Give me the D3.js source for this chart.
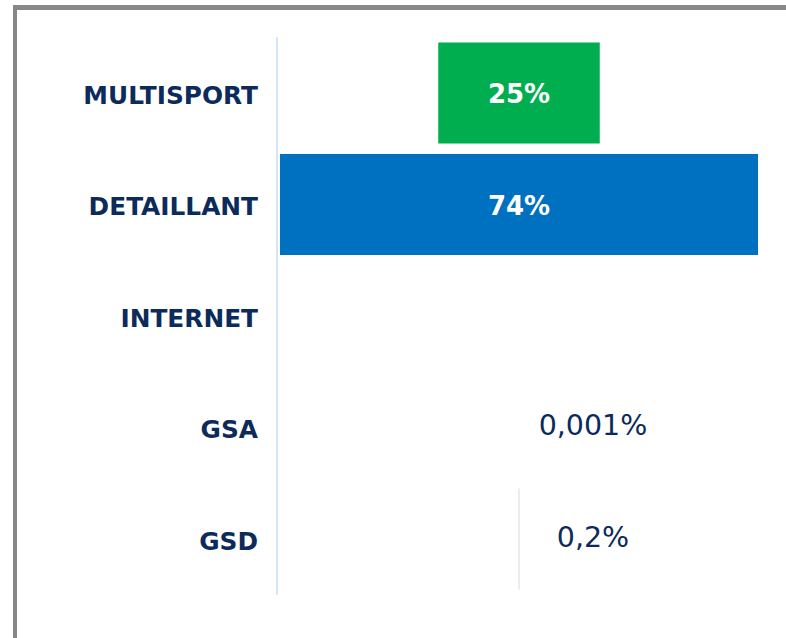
<!DOCTYPE html>
<html>
<head>
<meta charset="utf-8">
<script src="https://cdn.jsdelivr.net/npm/d3@7"></script>
<style>
  html, body { margin: 0; padding: 0; background: #ffffff; }
  svg { display: block; }
</style>
</head>
<body>
<svg id="chart" width="786" height="638"></svg>
<script>
const categories = ["MULTISPORT", "DETAILLANT", "INTERNET", "GSA", "GSD"];
const values = [25, 74, null, 0.001, 0.2];
const valueLabels = ["25%", "74%", "", "0,001%", "0,2%"];
const barColors = ["#00ae4f", "#0070c0", "#0070c0", "#e3e3e3", "#e3e3e3"];
const labelInside = [true, true, false, false, false];

const svg = d3.select("#chart");
const navy = "#0c2b5b";
const font = "'DejaVu Sans', sans-serif";

// frame
svg.append("line").attr("x1", 13).attr("x2", 786).attr("y1", 7.5).attr("y2", 7.5)
  .attr("stroke", "#888888").attr("stroke-width", 5);
svg.append("line").attr("x1", 15).attr("x2", 15).attr("y1", 5).attr("y2", 638)
  .attr("stroke", "#888888").attr("stroke-width", 4);

const y = d3.scaleBand().domain(categories).range([37.25, 594.75])
  .paddingInner(0.094).paddingOuter(0.047);

const cx = 519;
const half = d3.scaleLinear().domain([0, 74]).range([0, 239]);

// axis line
svg.append("line").attr("x1", 277).attr("x2", 277)
  .attr("y1", y.range()[0]).attr("y2", y.range()[1])
  .attr("stroke", "#d3e5fb").attr("stroke-width", 2);

const data = categories.map((c, i) => ({ c, v: values[i], label: valueLabels[i], color: barColors[i], inside: labelInside[i] }));

// bars (funnel, centered)
svg.append("g").selectAll("rect")
  .data(data.filter(d => d.v != null))
  .join("rect")
  .attr("x", d => cx - half(d.v))
  .attr("width", d => Math.max(half(d.v) * 2, d.v >= 0.1 ? 1.3 : 0))
  .attr("y", d => y(d.c))
  .attr("height", y.bandwidth())
  .attr("fill", d => d.color);

// category labels
svg.append("g").selectAll("text")
  .data(categories)
  .join("text")
  .attr("x", 258)
  .attr("y", d => y(d) + y.bandwidth() / 2 + 2)
  .attr("text-anchor", "end")
  .attr("dominant-baseline", "central")
  .attr("font-family", font)
  .attr("font-weight", "bold")
  .attr("font-size", 24.8)
  .attr("fill", navy)
  .text(d => d);

// value labels
svg.append("g").selectAll("text")
  .data(data.filter(d => d.v != null))
  .join("text")
  .attr("x", d => d.inside ? cx : cx + 74)
  .attr("y", d => y(d.c) + y.bandwidth() / 2 + (d.inside ? 1 : -2))
  .attr("text-anchor", "middle")
  .attr("dominant-baseline", "central")
  .attr("font-family", font)
  .attr("font-weight", d => d.inside ? "bold" : "normal")
  .attr("font-size", d => d.inside ? 26 : 28.5)
  .attr("fill", d => d.inside ? "#ffffff" : navy)
  .text(d => d.label);
</script>
</body>
</html>
